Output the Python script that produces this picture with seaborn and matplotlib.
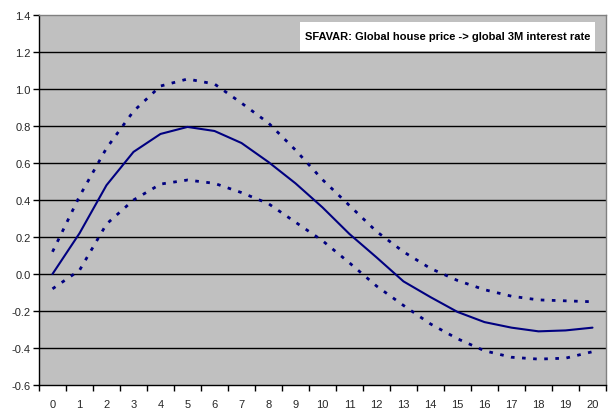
import numpy as np
import pandas as pd
import matplotlib
matplotlib.use("Agg")
import matplotlib.pyplot as plt
from matplotlib.patches import Rectangle
import seaborn as sns

horizon = list(range(21))
median = [0.0, 0.22, 0.48, 0.66, 0.757, 0.795, 0.773, 0.708, 0.605, 0.49, 0.36,
          0.216, 0.09, -0.04, -0.125, -0.205, -0.26, -0.29, -0.31, -0.305, -0.29]
upper = [0.12, 0.42, 0.68, 0.88, 1.016, 1.054, 1.027, 0.924, 0.816, 0.67, 0.51,
         0.37, 0.23, 0.12, 0.03, -0.035, -0.085, -0.12, -0.14, -0.145, -0.15]
lower = [-0.08, 0.02, 0.27, 0.40, 0.486, 0.508, 0.49, 0.44, 0.38, 0.28, 0.18,
         0.06, -0.065, -0.17, -0.27, -0.35, -0.415, -0.45, -0.46, -0.455, -0.42]
title = "SFAVAR: Global house price -> global 3M interest rate"
yticks = [-0.6, -0.4, -0.2, 0.0, 0.2, 0.4, 0.6, 0.8, 1.0, 1.2, 1.4]

df = pd.DataFrame({"h": horizon, "median": median, "upper": upper, "lower": lower})

sns.set_theme(style="white")
plt.rcParams["font.family"] = ["Liberation Sans", "DejaVu Sans"]

fig = plt.figure(figsize=(6.09, 4.10), dpi=100)
ax = fig.add_axes([39/609, 24/410, 567/609, 370/410])
ax.set_facecolor("#C0C0C0")

navy = "#000080"
sns.lineplot(data=df, x="h", y="upper", ax=ax, color=navy, lw=2.0,
             linestyle=(0, (1.3, 2.7)))
sns.lineplot(data=df, x="h", y="lower", ax=ax, color=navy, lw=2.0,
             linestyle=(0, (1.3, 2.7)))
sns.lineplot(data=df, x="h", y="median", ax=ax, color=navy, lw=1.5)

ax.set_xlim(-0.5, 20.5)
ax.set_ylim(-0.6, 1.4)
ax.set_yticks(yticks)
ax.set_yticklabels([f"{v:.1f}" for v in yticks], fontsize=8)
ax.set_xticks(np.arange(-0.5, 21, 1.0))
ax.set_xticklabels([])
ax.set_xticks(horizon, minor=True)
ax.set_xticklabels([str(h) for h in horizon], minor=True, fontsize=8)
ax.tick_params(axis="x", which="major", direction="out", length=4, width=1, color="black", bottom=True)
ax.tick_params(axis="x", which="minor", length=0, pad=10, bottom=True)
ax.tick_params(axis="y", direction="out", length=4, width=1, color="black", left=True, pad=2)
ax.set_xlabel("")
ax.set_ylabel("")
ax.grid(False)
for v in yticks[1:-1]:
    ax.axhline(v, color="black", lw=1.0, zorder=1)

for s in ["left", "bottom"]:
    ax.spines[s].set_color("black")
    ax.spines[s].set_linewidth(1.0)
for s in ["top", "right"]:
    ax.spines[s].set_color("#808080")
    ax.spines[s].set_linewidth(1.0)

ax.add_patch(Rectangle((0.460, 0.903), 0.521, 0.078, transform=ax.transAxes,
                       facecolor="white", edgecolor="none", zorder=4))
ax.text(0.720, 0.942, title, transform=ax.transAxes, ha="center", va="center",
        fontsize=8, fontweight="bold", color="black", zorder=5)

fig.savefig("out.png", dpi=100)
